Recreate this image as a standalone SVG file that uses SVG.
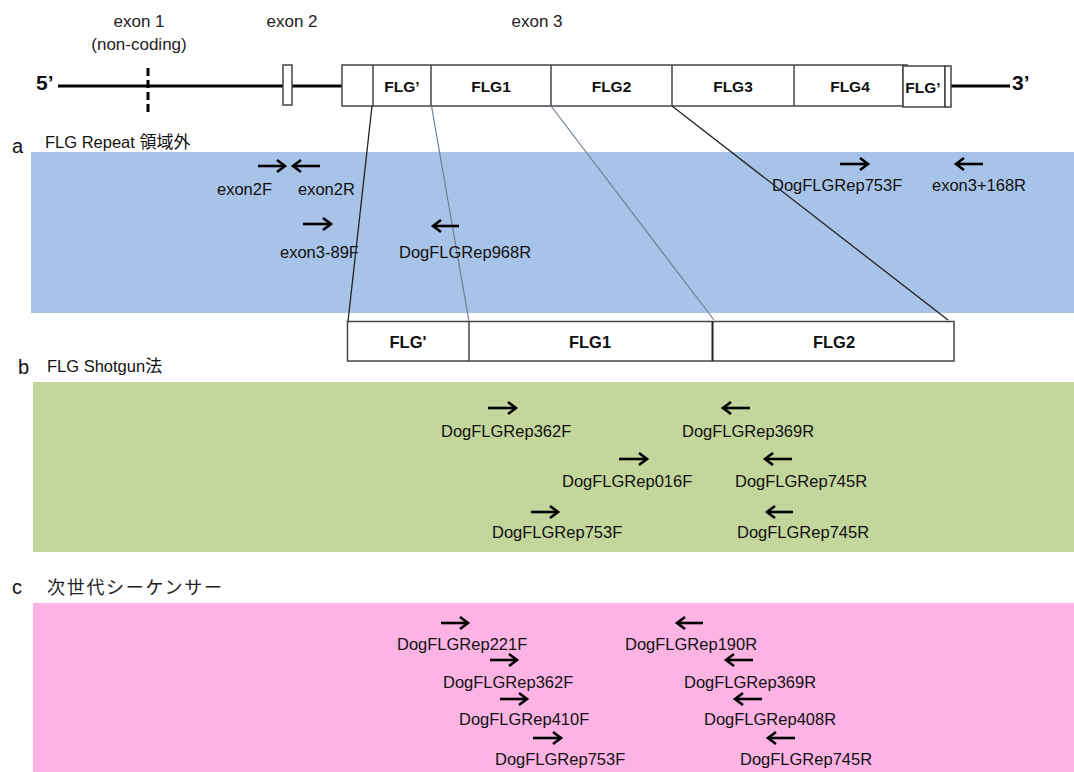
<svg xmlns="http://www.w3.org/2000/svg" width="1074" height="772" viewBox="0 0 1074 772">
<style>
  .t { font-family: "Liberation Sans", Arial, sans-serif; font-size: 16.5px; fill: #111; }
  .hdr { font-family: "Liberation Sans", Arial, sans-serif; font-size: 17px; fill: #222; }
  .lbl { font-family: "Liberation Sans", Arial, sans-serif; font-size: 20px; fill: #111; }
  .sec { font-family: "Liberation Sans", "Noto Sans CJK JP", sans-serif; font-size: 16.5px; fill: #111; }
  .jp { font-family: "Noto Sans CJK JP", sans-serif; font-size: 18px; fill: #222; }
  .end { font-family: "Liberation Sans", Arial, sans-serif; font-size: 21px; font-weight: bold; fill: #111; }
  .flg { font-family: "Liberation Sans", Arial, sans-serif; font-size: 15.5px; font-weight: bold; fill: #111; text-anchor: middle; }
  .flgb { font-family: "Liberation Sans", Arial, sans-serif; font-size: 16.5px; font-weight: bold; fill: #111; text-anchor: middle; }
  .box { fill: #fff; stroke: #444; stroke-width: 1.5; }
  .div { stroke: #444; stroke-width: 1.5; }
  .pr { stroke: #000; stroke-width: 2.6; fill: none; }
  .dark { stroke: #222; stroke-width: 1.3; }
  .light { stroke: #6f7f96; stroke-width: 1.2; }
</style>
<defs>
  <marker id="ah" markerUnits="userSpaceOnUse" markerWidth="14" markerHeight="16" refX="9" refY="7" orient="auto" overflow="visible">
    <path d="M1,1 L9,7 L1,13" fill="none" stroke="#000" stroke-width="2.6"/>
  </marker>
</defs>
<rect width="1074" height="772" fill="#fff"/>

<!-- background bands -->
<g id="band-a"><rect x="31" y="152" width="1043" height="161" fill="#A7C3E8"/></g>
<g id="band-b"><rect x="33" y="382" width="1041" height="170" fill="#C3D69B"/></g>
<g id="band-c"><rect x="33" y="603" width="1041" height="169" fill="#FDB4E5"/></g>

<!-- gene structure -->
<g id="gene">
  <text class="hdr" x="139" y="27" text-anchor="middle">exon 1</text>
  <text class="hdr" x="139" y="50" text-anchor="middle">(non-coding)</text>
  <text class="hdr" x="292" y="27" text-anchor="middle">exon 2</text>
  <text class="hdr" x="537" y="27" text-anchor="middle">exon 3</text>
  <text class="end" x="36" y="90">5’</text>
  <text class="end" x="1012" y="90">3’</text>
  <line x1="58" y1="86" x2="342" y2="86" stroke="#000" stroke-width="3"/>
  <line x1="951" y1="86" x2="1010" y2="86" stroke="#000" stroke-width="3"/>
  <line x1="148" y1="68" x2="148" y2="114" stroke="#000" stroke-width="3" stroke-dasharray="8,4"/>
</g>
<g id="exon2"><rect class="box" x="283" y="65" width="9" height="40"/></g>
<g id="exon3">
  <rect class="box" x="342" y="65" width="561" height="41"/>
  <line class="div" x1="903" y1="65" x2="908" y2="65"/>
  <line class="div" x1="373" y1="65" x2="373" y2="106"/>
  <line class="div" x1="431" y1="65" x2="431" y2="106"/>
  <line class="div" x1="551" y1="65" x2="551" y2="106"/>
  <line class="div" x1="672" y1="65" x2="672" y2="106"/>
  <line class="div" x1="794" y1="65" x2="794" y2="106"/>
  <rect class="box" x="903" y="66" width="42" height="41"/>
  <rect class="box" x="945" y="66" width="6" height="41"/>
  <text class="flg" x="402" y="92">FLG’</text>
  <text class="flg" x="491" y="92">FLG1</text>
  <text class="flg" x="611.5" y="92">FLG2</text>
  <text class="flg" x="733" y="92">FLG3</text>
  <text class="flg" x="850" y="92">FLG4</text>
  <text class="flg" x="923" y="93">FLG’</text>
</g>

<!-- section headings -->
<g id="heading-a">
  <text class="lbl" x="12" y="153">a</text>
  <text class="sec" x="45" y="148">FLG Repeat <tspan font-family="Noto Sans CJK JP, sans-serif" font-size="17">領域外</tspan></text>
</g>
<g id="heading-b">
  <text class="lbl" x="18" y="374">b</text>
  <text class="sec" x="47" y="372">FLG Shotgun<tspan font-family="Noto Sans CJK JP, sans-serif" font-size="17">法</tspan></text>
</g>
<g id="heading-c">
  <text class="lbl" x="12" y="594">c</text>
  <text class="jp" x="47" y="594" textLength="175" lengthAdjust="spacing">次世代シーケンサー</text>
</g>

<!-- expanded repeat box -->
<g id="expanded">
  <rect class="box" x="347.5" y="321.5" width="606.5" height="39.5"/>
  <line class="div" x1="469" y1="321.5" x2="469" y2="361"/>
  <line x1="712.5" y1="321.5" x2="712.5" y2="361" stroke="#222" stroke-width="2"/>
  <text class="flgb" x="408" y="348">FLG'</text>
  <text class="flgb" x="590" y="348">FLG1</text>
  <text class="flgb" x="834" y="348">FLG2</text>
</g>

<!-- zoom connectors -->
<g id="connectors">
  <line class="dark" x1="372" y1="106" x2="348" y2="321.5"/>
  <line class="light" x1="431.5" y1="106" x2="469" y2="321.5"/>
  <line class="light" x1="551" y1="106" x2="714" y2="320"/>
  <line class="dark" x1="672" y1="106" x2="948" y2="320"/>
</g>

<!-- section a primers -->
<g id="primers-a">
  <line class="pr" x1="258" y1="166" x2="285" y2="166" marker-end="url(#ah)"/>
  <text class="t" x="217" y="195">exon2F</text>
  <line class="pr" x1="320" y1="166" x2="293" y2="166" marker-end="url(#ah)"/>
  <text class="t" x="298" y="195">exon2R</text>
  <line class="pr" x1="303" y1="224" x2="331" y2="224" marker-end="url(#ah)"/>
  <text class="t" x="280" y="258">exon3-89F</text>
  <line class="pr" x1="459" y1="226" x2="433" y2="226" marker-end="url(#ah)"/>
  <text class="t" x="399" y="258">DogFLGRep968R</text>
  <line class="pr" x1="840" y1="164" x2="868" y2="164" marker-end="url(#ah)"/>
  <text class="t" x="772" y="191">DogFLGRep753F</text>
  <line class="pr" x1="983" y1="164" x2="956" y2="164" marker-end="url(#ah)"/>
  <text class="t" x="932" y="191">exon3+168R</text>
</g>

<!-- section b primers -->
<g id="primers-b">
  <line class="pr" x1="488" y1="408" x2="516" y2="408" marker-end="url(#ah)"/>
  <text class="t" x="441" y="437">DogFLGRep362F</text>
  <line class="pr" x1="750" y1="408" x2="723" y2="408" marker-end="url(#ah)"/>
  <text class="t" x="682" y="437">DogFLGRep369R</text>
  <line class="pr" x1="619" y1="459" x2="647" y2="459" marker-end="url(#ah)"/>
  <text class="t" x="562" y="487">DogFLGRep016F</text>
  <line class="pr" x1="792" y1="459" x2="765" y2="459" marker-end="url(#ah)"/>
  <text class="t" x="735" y="487">DogFLGRep745R</text>
  <line class="pr" x1="531" y1="512" x2="558" y2="512" marker-end="url(#ah)"/>
  <text class="t" x="492" y="538">DogFLGRep753F</text>
  <line class="pr" x1="793" y1="512" x2="767" y2="512" marker-end="url(#ah)"/>
  <text class="t" x="737" y="538">DogFLGRep745R</text>
</g>

<!-- section c primers -->
<g id="primers-c">
  <line class="pr" x1="441" y1="623" x2="468" y2="623" marker-end="url(#ah)"/>
  <text class="t" x="397" y="650">DogFLGRep221F</text>
  <line class="pr" x1="703" y1="623" x2="677" y2="623" marker-end="url(#ah)"/>
  <text class="t" x="625" y="650">DogFLGRep190R</text>
  <line class="pr" x1="490" y1="660" x2="517" y2="660" marker-end="url(#ah)"/>
  <text class="t" x="443" y="688">DogFLGRep362F</text>
  <line class="pr" x1="753" y1="660" x2="726" y2="660" marker-end="url(#ah)"/>
  <text class="t" x="684" y="688">DogFLGRep369R</text>
  <line class="pr" x1="500" y1="699" x2="527" y2="699" marker-end="url(#ah)"/>
  <text class="t" x="459" y="725">DogFLGRep410F</text>
  <line class="pr" x1="762" y1="699" x2="735" y2="699" marker-end="url(#ah)"/>
  <text class="t" x="704" y="725">DogFLGRep408R</text>
  <line class="pr" x1="533" y1="738" x2="561" y2="738" marker-end="url(#ah)"/>
  <text class="t" x="495" y="765">DogFLGRep753F</text>
  <line class="pr" x1="795" y1="738" x2="768" y2="738" marker-end="url(#ah)"/>
  <text class="t" x="740" y="765">DogFLGRep745R</text>
</g>
</svg>
